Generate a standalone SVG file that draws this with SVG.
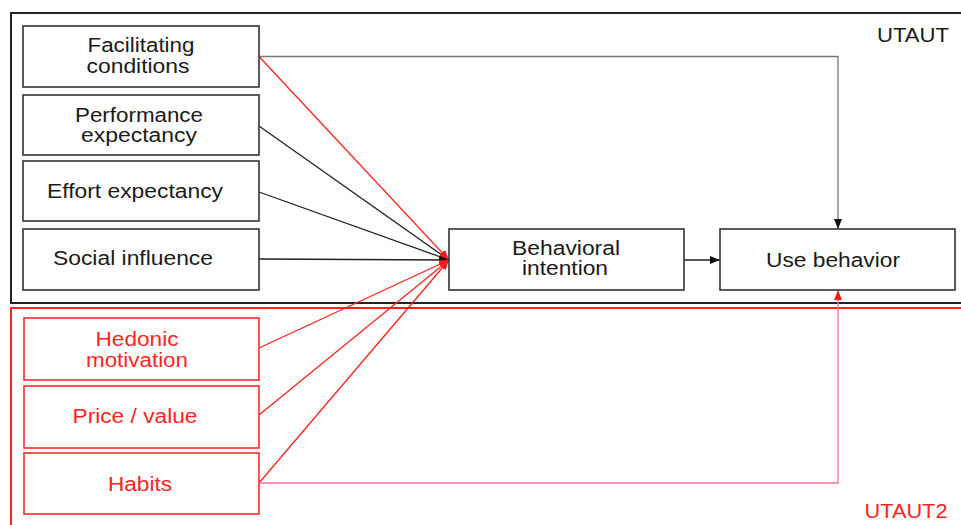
<svg xmlns="http://www.w3.org/2000/svg" width="961" height="525" viewBox="0 0 961 525">
  <style>
    .frame { fill: none; stroke-width: 2; }
    .box rect { fill: #fff; stroke: #333; stroke-width: 1.6; }
    .box.ext rect { stroke: #ff2a2a; }
    text { font-family: "Liberation Sans", Arial, sans-serif; font-size: 19.5px; text-anchor: middle; fill: #1a1a1a; }
    .ext text, text.ext { fill: #ff2424; }
    .c { fill: none; stroke-width: 1.3; }
    .k { stroke: #222; }
    .g { stroke: #777; }
    .r { stroke: #ff2020; }
    .p { stroke: #ff70a0; }
  </style>
  <defs>
    <marker id="ak" viewBox="0 0 10 8" refX="10" refY="4" markerWidth="10" markerHeight="8" markerUnits="userSpaceOnUse" orient="auto">
      <path d="M0,0 L10,4 L0,8 z" fill="#111"/>
    </marker>
    <marker id="ar" viewBox="0 0 10 8" refX="10" refY="4" markerWidth="10" markerHeight="8" markerUnits="userSpaceOnUse" orient="auto">
      <path d="M0,0 L10,4 L0,8 z" fill="#ff1a1a"/>
    </marker>
  </defs>
  <rect width="961" height="525" fill="#fff"/>

  <!-- model frames -->
  <g id="frame-utaut">
    <rect class="frame" x="11" y="13" width="970" height="290" stroke="#222"/>
    <text x="913" y="42" textLength="72" lengthAdjust="spacingAndGlyphs">UTAUT</text>
  </g>
  <g id="frame-utaut2">
    <rect class="frame" x="11" y="308" width="970" height="240" stroke="#ff2020"/>
    <text class="ext" x="906" y="518" textLength="83" lengthAdjust="spacingAndGlyphs">UTAUT2</text>
  </g>

  <!-- connectors -->
  <g id="connectors">
    <polyline class="c g" points="259,56.5 838,56.5 838,229" marker-end="url(#ak)"/>
    <line class="c k" x1="259" y1="126" x2="449" y2="260" marker-end="url(#ak)"/>
    <line class="c k" x1="259" y1="192" x2="449" y2="260" marker-end="url(#ak)"/>
    <line class="c k" x1="259" y1="259" x2="449" y2="260" marker-end="url(#ak)"/>
    <line class="c r" x1="259" y1="56.5" x2="449" y2="260" marker-end="url(#ar)"/>
    <line class="c r" x1="259" y1="348" x2="449" y2="260" marker-end="url(#ar)"/>
    <line class="c r" x1="259" y1="415" x2="449" y2="260" marker-end="url(#ar)"/>
    <line class="c r" x1="259" y1="483" x2="449" y2="260" marker-end="url(#ar)"/>
    <polyline class="c p" points="259,483 838,483 838,290" marker-end="url(#ar)"/>
    <line class="c k" x1="684" y1="260" x2="720" y2="260" marker-end="url(#ak)"/>
  </g>

  <!-- UTAUT constructs -->
  <g id="facilitating-conditions" class="box">
    <rect x="23" y="26" width="236" height="61"/>
    <text x="141" y="52" textLength="107" lengthAdjust="spacingAndGlyphs">Facilitating</text>
    <text x="138" y="73" textLength="103" lengthAdjust="spacingAndGlyphs">conditions</text>
  </g>
  <g id="performance-expectancy" class="box">
    <rect x="23" y="95" width="236" height="60"/>
    <text x="139" y="122" textLength="128" lengthAdjust="spacingAndGlyphs">Performance</text>
    <text x="139" y="142" textLength="116" lengthAdjust="spacingAndGlyphs">expectancy</text>
  </g>
  <g id="effort-expectancy" class="box">
    <rect x="23" y="161" width="236" height="60"/>
    <text x="135" y="198" textLength="176" lengthAdjust="spacingAndGlyphs">Effort expectancy</text>
  </g>
  <g id="social-influence" class="box">
    <rect x="23" y="229" width="236" height="61"/>
    <text x="133" y="265" textLength="160" lengthAdjust="spacingAndGlyphs">Social influence</text>
  </g>

  <!-- UTAUT2 extensions -->
  <g id="hedonic-motivation" class="box ext">
    <rect x="24" y="318" width="235" height="62"/>
    <text x="137" y="346" textLength="83" lengthAdjust="spacingAndGlyphs">Hedonic</text>
    <text x="137" y="367" textLength="102" lengthAdjust="spacingAndGlyphs">motivation</text>
  </g>
  <g id="price-value" class="box ext">
    <rect x="24" y="386" width="235" height="62"/>
    <text x="135" y="423" textLength="125" lengthAdjust="spacingAndGlyphs">Price / value</text>
  </g>
  <g id="habits" class="box ext">
    <rect x="24" y="453" width="235" height="61"/>
    <text x="140" y="491" textLength="64" lengthAdjust="spacingAndGlyphs">Habits</text>
  </g>

  <!-- outcomes -->
  <g id="behavioral-intention" class="box">
    <rect x="449" y="229" width="235" height="61"/>
    <text x="566" y="255" textLength="108" lengthAdjust="spacingAndGlyphs">Behavioral</text>
    <text x="565" y="275" textLength="86" lengthAdjust="spacingAndGlyphs">intention</text>
  </g>
  <g id="use-behavior" class="box">
    <rect x="720" y="229" width="235" height="61"/>
    <text x="833" y="267" textLength="134" lengthAdjust="spacingAndGlyphs">Use behavior</text>
  </g>
</svg>
